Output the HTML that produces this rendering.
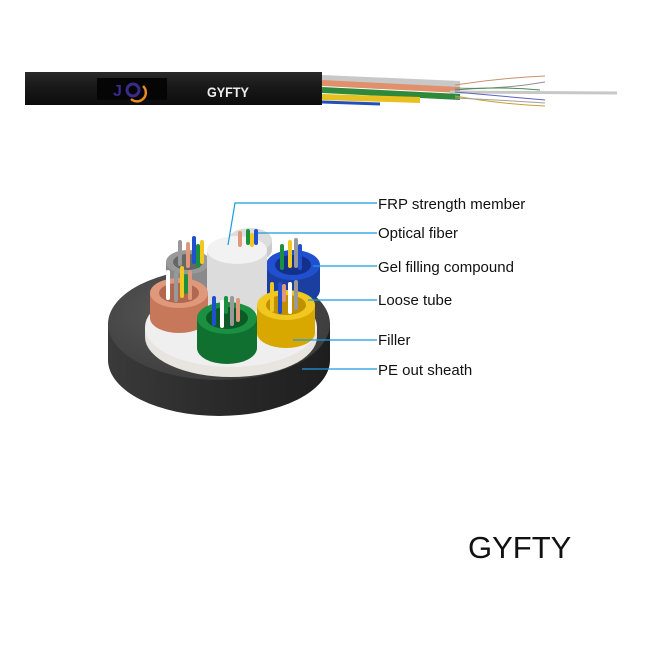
<!DOCTYPE html>
<html><head><meta charset="utf-8"><style>
html,body{margin:0;padding:0;background:#fff;width:650px;height:650px;overflow:hidden}
svg{display:block}
text{font-family:"Liberation Sans",Arial,sans-serif}
</style></head><body>
<svg width="650" height="650" viewBox="0 0 650 650" xmlns="http://www.w3.org/2000/svg">
<defs>
<linearGradient id="cab" x1="0" y1="0" x2="0" y2="1"><stop offset="0" stop-color="#2a2a2a"/><stop offset="0.4" stop-color="#1a1a1a"/><stop offset="1" stop-color="#0c0c0c"/></linearGradient>
<linearGradient id="side" x1="0" y1="0" x2="1" y2="0"><stop offset="0" stop-color="#3a3a3a"/><stop offset="0.5" stop-color="#2a2a2a"/><stop offset="1" stop-color="#1e1e1e"/></linearGradient>
<radialGradient id="top" cx="0.4" cy="0.4" r="0.7"><stop offset="0" stop-color="#5a5a5a"/><stop offset="1" stop-color="#3a3a3a"/></radialGradient>
</defs>
<rect x="25" y="72" width="297" height="33" fill="url(#cab)"/>
<rect x="97" y="78" width="70" height="22" fill="#050505"/>
<text x="113" y="96" font-size="16" font-weight="bold" fill="#3a2a8a">J</text>
<circle cx="133" cy="90" r="6" fill="none" stroke="#3a2a8a" stroke-width="3"/>
<path d="M143 86 A8 8 0 1 1 131 99" fill="none" stroke="#e88a20" stroke-width="2.5"/>
<text x="207" y="97" font-size="14" fill="#eee" transform="translate(207 0) scale(0.9 1) translate(-207 0)" font-weight="bold">GYFTY</text>
<path d="M322 78 L460 84" stroke="#c8c8c8" stroke-width="6"/>
<path d="M322 83 L380 86 L460 90" stroke="#e0906a" stroke-width="6"/>
<path d="M322 90 L460 97" stroke="#2e8a3a" stroke-width="6"/>
<path d="M322 97 L420 100" stroke="#e8c020" stroke-width="6"/>
<path d="M322 102 L380 104" stroke="#2050c0" stroke-width="3"/>
<path d="M450 92 L617 93" stroke="#c8c8c8" stroke-width="3"/>
<g fill="none" stroke-width="1">
<path d="M455 85 Q500 78 545 76" stroke="#c89070"/>
<path d="M455 88 Q500 90 545 82" stroke="#909090"/>
<path d="M455 92 Q500 96 545 100" stroke="#6060c0"/>
<path d="M455 96 Q500 104 545 106" stroke="#c8a030"/>
<path d="M455 90 Q500 86 540 90" stroke="#4a8a50"/>
<path d="M455 98 Q500 100 545 103" stroke="#a0a0a0"/>
</g>
<path d="M108 324 L108 360 A111 56 0 0 0 330 360 L330 324 Z" fill="url(#side)"/>
<ellipse cx="219" cy="324" rx="111" ry="56" fill="url(#top)"/>
<path d="M145 327 L145 337 A86 40 0 0 0 317 337 L317 327 Z" fill="#e8e4e0"/>
<ellipse cx="231" cy="327" rx="86" ry="40" fill="#efefef"/>
<g>
<path d="M228 240 L228 250 A22 12 0 0 0 272 250 L272 240 Z" fill="#ccc"/><ellipse cx="250" cy="240" rx="22" ry="12" fill="#ddd"/>
<path d="M166 262 L166 285 A22 12 0 0 0 210 285 L210 262 Z" fill="#8a8a8a"/><ellipse cx="188" cy="262" rx="22" ry="12" fill="#999"/><ellipse cx="188" cy="262" rx="15" ry="8" fill="#666"/>
<path d="M266 265 L266 290 A27 15 0 0 0 320 290 L320 265 Z" fill="#1b3fa0"/><ellipse cx="293" cy="265" rx="27" ry="15" fill="#2050d0"/><ellipse cx="293" cy="265" rx="18" ry="10" fill="#13308a"/>
<path d="M207 250 L207 300 A30 14 0 0 0 267 300 L267 250 Z" fill="#dcdcdc"/><ellipse cx="237" cy="250" rx="30" ry="14" fill="#f2f2f2"/>
<path d="M150 293 L150 318 A29 15 0 0 0 208 318 L208 293 Z" fill="#c8785a"/><ellipse cx="179" cy="293" rx="29" ry="15" fill="#e0987a"/><ellipse cx="179" cy="293" rx="20" ry="10" fill="#b06850"/>
<path d="M257 305 L257 333 A29 15 0 0 0 315 333 L315 305 Z" fill="#d8a800"/><ellipse cx="286" cy="305" rx="29" ry="15" fill="#f0c820"/><ellipse cx="286" cy="305" rx="20" ry="10" fill="#c09000"/>
<path d="M197 318 L197 348 A30 16 0 0 0 257 348 L257 318 Z" fill="#107030"/><ellipse cx="227" cy="318" rx="30" ry="16" fill="#1a9040"/><ellipse cx="227" cy="318" rx="21" ry="11" fill="#0c5a28"/>
</g>
<g stroke-width="4" stroke-linecap="round">
<path d="M240 245 v-12" stroke="#e0987a"/><path d="M248 243 v-12" stroke="#1a9040"/><path d="M256 243 v-12" stroke="#2050d0"/><path d="M252 245 v-10" stroke="#f0c820"/>
<path d="M180 264 v-22" stroke="#999"/><path d="M188 266 v-22" stroke="#e0987a"/><path d="M194 262 v-24" stroke="#2050d0"/><path d="M198 266 v-20" stroke="#1a9040"/><path d="M202 262 v-20" stroke="#f0c820"/>
<path d="M282 268 v-22" stroke="#1a9040"/><path d="M290 266 v-24" stroke="#f0c820"/><path d="M296 266 v-26" stroke="#999"/><path d="M300 268 v-22" stroke="#2050d0"/>
<path d="M168 298 v-26" stroke="#fff"/><path d="M176 300 v-26" stroke="#999"/><path d="M182 296 v-28" stroke="#f0c820"/><path d="M190 298 v-26" stroke="#e0987a"/><path d="M186 292 v-16" stroke="#1a9040"/>
<path d="M272 310 v-26" stroke="#f0c820"/><path d="M280 312 v-28" stroke="#2050d0"/><path d="M290 312 v-28" stroke="#fff"/><path d="M296 308 v-26" stroke="#999"/><path d="M284 300 v-14" stroke="#e0987a"/>
<path d="M214 324 v-26" stroke="#2050d0"/><path d="M222 326 v-24" stroke="#fff"/><path d="M232 324 v-26" stroke="#999"/><path d="M226 312 v-14" stroke="#1a9040"/><path d="M238 320 v-20" stroke="#e0987a"/>
</g>
<g stroke="#1a9be0" stroke-width="1.2" fill="none">
<path d="M228 245 L235 203 L377 203"/>
<path d="M258 233 L377 233"/>
<path d="M313 266 L377 266"/>
<path d="M308 300 L377 300"/>
<path d="M293 340 L377 340"/>
<path d="M302 369 L377 369"/>
</g>
<g font-size="15" fill="#111">
<text x="378" y="209">FRP strength member</text>
<text x="378" y="238">Optical fiber</text>
<text x="378" y="272">Gel filling compound</text>
<text x="378" y="305">Loose tube</text>
<text x="378" y="345">Filler</text>
<text x="378" y="375">PE out sheath</text>
</g>
<text x="468" y="558" font-size="31" fill="#111">GYFTY</text>
</svg>
</body></html>
